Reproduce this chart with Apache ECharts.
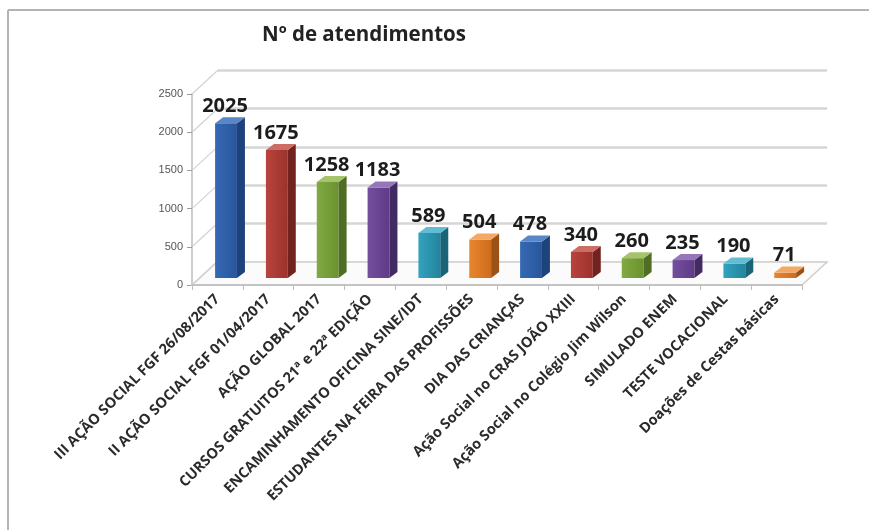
<!DOCTYPE html>
<html>
<head>
<meta charset="utf-8">
<script src="https://cdn.jsdelivr.net/npm/echarts@6/dist/echarts.min.js"></script>
<style>
  html, body { margin: 0; padding: 0; background: #fff; }
  #chart { width: 869px; height: 530px; }
</style>
</head>
<body>
<div id="chart"></div>
<script>
// Atendimentos por ação
const categories = [
  'III AÇÃO SOCIAL FGF 26/08/2017',
  'II AÇÃO SOCIAL FGF 01/04/2017',
  'AÇÃO GLOBAL 2017',
  'CURSOS GRATUITOS 21ª e 22ª EDIÇÃO',
  'ENCAMINHAMENTO OFICINA SINE/IDT',
  'ESTUDANTES NA FEIRA DAS PROFISSÕES',
  'DIA DAS CRIANÇAS',
  'Ação Social no CRAS JOÃO XXIII',
  'Ação Social no Colégio Jim Wilson',
  'SIMULADO ENEM',
  'TESTE VOCACIONAL',
  'Doações de Cestas básicas'
];
const atendimentos = [2025, 1675, 1258, 1183, 589, 504, 478, 340, 260, 235, 190, 71];
const yTicks = [0, 500, 1000, 1500, 2000, 2500];
const titleText = 'Nº de atendimentos';

// Face colours (front light, front dark, side, top) cycling like an Office palette
const palette = [
  ['#3669b4', '#28569a', '#1e437c', '#5a86c8'],
  ['#b8443d', '#9c322c', '#72231f', '#cc6c64'],
  ['#82aa42', '#6a922f', '#4f6e24', '#a5c46a'],
  ['#744f9e', '#5e3b87', '#442a62', '#9676b8'],
  ['#33a3bf', '#22849e', '#1a6477', '#62bdd3'],
  ['#e8862f', '#cd6c1c', '#9c5217', '#f3a964']
];

// depth of the floor/back wall and of each column
const WALL_DX = 25, WALL_DY = -23;
const BAR_SHIFT_X = 8.6, BAR_SHIFT_Y = -7;
const BAR_DX = 8, BAR_DY = -6;

const chart = echarts.init(document.getElementById('chart'), null, { renderer: 'canvas' });

function renderBar(params, api) {
  const i = api.value(0);
  const v = api.value(1);
  const base = api.coord([i, 0]);
  const top = api.coord([i, v]);
  const band = api.size([1, 0])[0];
  const w = band * 0.43;
  const cx = base[0] + BAR_SHIFT_X;
  const x0 = cx - w / 2, x1 = cx + w / 2;
  const yb = base[1] + BAR_SHIFT_Y;
  const yt = top[1] + BAR_SHIFT_Y;
  const c = palette[i % palette.length];
  return {
    type: 'group',
    children: [
      {
        type: 'polygon',
        shape: { points: [[x0, yb], [x1, yb], [x1, yt], [x0, yt]] },
        style: {
          fill: new echarts.graphic.LinearGradient(0, 0, 1, 0, [
            { offset: 0, color: c[0] },
            { offset: 1, color: c[1] }
          ])
        }
      },
      {
        type: 'polygon',
        shape: { points: [[x1, yb], [x1 + BAR_DX, yb + BAR_DY], [x1 + BAR_DX, yt + BAR_DY], [x1, yt]] },
        style: { fill: c[2] }
      },
      {
        type: 'polygon',
        shape: { points: [[x0, yt], [x1, yt], [x1 + BAR_DX, yt + BAR_DY], [x0 + BAR_DX, yt + BAR_DY]] },
        style: { fill: c[3] }
      },
      {
        type: 'text',
        x: cx - 1,
        y: yt + BAR_DY - 1,
        style: {
          text: String(v),
          fill: '#1c1c1c',
          fontSize: 20,
          fontWeight: 'bold',
          fontFamily: 'Open Sans',
          align: 'center',
          verticalAlign: 'bottom'
        }
      }
    ]
  };
}

// floor and left-wall diagonals drawn from the front axis positions
function renderFrame(params, api) {
  const v = api.value(0);
  const band = api.size([1, 0])[0];
  const first = api.coord([0, v]);
  const children = [];
  const xl = first[0] - band / 2;
  if (v === 0) {
    const last = api.coord([categories.length - 1, 0]);
    const xr = last[0] + band / 2;
    const y = first[1];
    children.push({
      type: 'polygon',
      shape: { points: [[xl, y], [xr, y], [xr + WALL_DX, y + WALL_DY], [xl + WALL_DX, y + WALL_DY]] },
      style: { fill: '#fbfbfb', stroke: '#cfcfcf', lineWidth: 1.5 }
    });
  }
  children.push({
    type: 'line',
    shape: { x1: xl, y1: first[1], x2: xl + WALL_DX, y2: first[1] + WALL_DY },
    style: { stroke: '#d2d2d2', lineWidth: 1.2 }
  });
  return { type: 'group', children: children };
}

chart.setOption({
  animation: false,
  backgroundColor: '#ffffff',
  title: {
    text: titleText,
    left: 257,
    top: 20,
    textStyle: { fontFamily: 'Open Sans', fontSize: 20.5, fontWeight: 'bold', color: '#222' }
  },
  grid: [
    { left: 192, right: 67, top: 94, bottom: 245 },
    { left: 217, right: 42, top: 70, bottom: 268 }
  ],
  xAxis: [
    {
      type: 'category',
      gridIndex: 0,
      data: categories,
      axisLine: { lineStyle: { color: '#c4c4c4', width: 2 } },
      axisTick: { show: true, length: 5, lineStyle: { color: '#bdbdbd' } },
      axisLabel: {
        interval: 0,
        rotate: 45,
        margin: 12,
        color: '#2b2b2b',
        fontFamily: 'Open Sans',
        fontWeight: 'bold',
        fontSize: 14.5
      },
      z: 1
    },
    {
      type: 'category',
      gridIndex: 1,
      data: categories,
      show: false
    }
  ],
  yAxis: [
    {
      type: 'value',
      gridIndex: 0,
      min: yTicks[0],
      max: yTicks[yTicks.length - 1],
      interval: yTicks[1] - yTicks[0],
      axisLine: { show: true, lineStyle: { color: '#bdbdbd', width: 1.5 } },
      axisTick: { show: true, length: 5, lineStyle: { color: '#9a9a9a' } },
      axisLabel: {
        margin: 9, color: '#555', fontSize: 11, fontFamily: 'Liberation Sans',
        formatter: v => String(v)
      },
      splitLine: { show: false }
    },
    {
      type: 'value',
      gridIndex: 1,
      min: yTicks[0],
      max: yTicks[yTicks.length - 1],
      interval: yTicks[1] - yTicks[0],
      axisLine: { show: false },
      axisTick: { show: false },
      axisLabel: { show: false },
      splitLine: { show: true, lineStyle: { color: '#d6d6d6', width: 2.5 } }
    }
  ],
  graphic: [
    { type: 'line', shape: { x1: 8, y1: 10, x2: 869, y2: 10 }, style: { stroke: '#b4b4b4', lineWidth: 2 } },
    { type: 'line', shape: { x1: 8, y1: 10, x2: 8, y2: 530 }, style: { stroke: '#b4b4b4', lineWidth: 2 } }
  ],
  series: [
    {
      type: 'custom',
      name: 'frame',
      xAxisIndex: 0,
      yAxisIndex: 0,
      renderItem: renderFrame,
      data: yTicks.map(t => [t]),
      encode: { y: 0 },
      silent: true,
      z: 1
    },
    {
      type: 'custom',
      name: 'Nº de atendimentos',
      xAxisIndex: 0,
      yAxisIndex: 0,
      renderItem: renderBar,
      data: atendimentos.map((v, i) => [i, v]),
      encode: { x: 0, y: 1 },
      z: 5
    }
  ]
});
</script>
</body>
</html>
